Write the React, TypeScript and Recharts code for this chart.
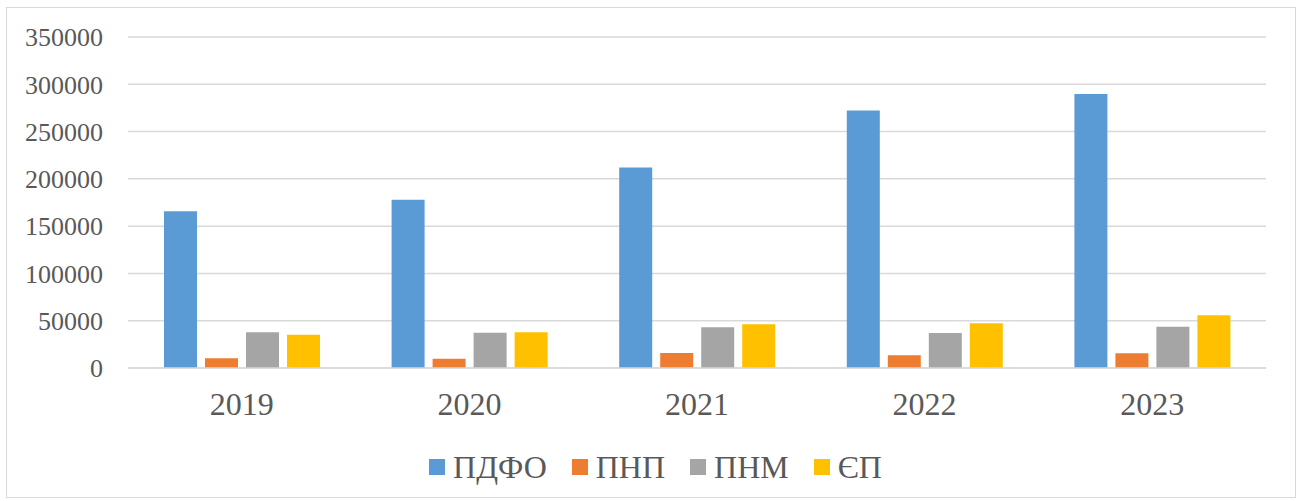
import { BarChart, Bar, XAxis, YAxis, CartesianGrid, Legend } from "recharts";

const years = ["2019", "2020", "2021", "2022", "2023"];
const pdfo = [165700, 178000, 212100, 272400, 289700];
const pnp = [10200, 9800, 15900, 13400, 15500];
const pnm = [37700, 37300, 43000, 37000, 43700];
const yep = [35200, 37700, 46200, 47200, 55700];
const yTicks = [0, 50000, 100000, 150000, 200000, 250000, 300000, 350000];

const series = [
  { key: "pdfo", name: "ПДФО", color: "#5B9BD5" },
  { key: "pnp", name: "ПНП", color: "#ED7D31" },
  { key: "pnm", name: "ПНМ", color: "#A5A5A5" },
  { key: "yep", name: "ЄП", color: "#FFC000" },
];

const data = years.map((year, i) => ({
  year,
  pdfo: pdfo[i],
  pnp: pnp[i],
  pnm: pnm[i],
  yep: yep[i],
}));

// quoted family names didn't resolve here, plain ones do
const font = "Liberation Serif, serif";
const textColor = "#595959";

const LegendContent = () => (
  <div
    style={{
      display: "flex",
      justifyContent: "center",
      paddingLeft: 42,
      paddingTop: 8,
      fontFamily: font,
      fontSize: 32,
      color: textColor,
      lineHeight: "32px",
    }}
  >
    {series.map((s) => (
      <div key={s.key} style={{ display: "flex", alignItems: "center", marginRight: 25 }}>
        <span
          style={{ width: 16, height: 16, background: s.color, display: "inline-block", marginRight: 8 }}
        />
        <span>{s.name}</span>
      </div>
    ))}
  </div>
);

export default function App() {
  return (
    <div style={{ position: "absolute", left: 0, top: 0, width: 1299, height: 501, background: "#fff" }}>
      <div
        style={{
          position: "absolute",
          left: 6,
          top: 7,
          width: 1288,
          height: 489,
          border: "1px solid #D9D9D9",
        }}
      />
      <BarChart
        width={1299}
        height={501}
        data={data}
        margin={{ top: 37, right: 33, left: 28, bottom: 0 }}
        barGap={8}
      >
        <CartesianGrid vertical={false} stroke="#D9D9D9" strokeWidth={1.5} />
        <XAxis
          dataKey="year"
          height={75}
          axisLine={{ stroke: "#D9D9D9", strokeWidth: 1.5 }}
          tickLine={false}
          tickSize={0}
          tickMargin={24}
          tick={{ fill: textColor, fontSize: 32, fontFamily: font }}
        />
        <YAxis
          width={100}
          domain={[0, 350000]}
          ticks={yTicks}
          axisLine={false}
          tickLine={false}
          tickSize={0}
          tickMargin={25}
          tick={{ fill: textColor, fontSize: 26, fontFamily: font }}
        />
        <Legend verticalAlign="bottom" height={58} content={<LegendContent />} />
        {series.map((s) => (
          <Bar
            key={s.key}
            dataKey={s.key}
            name={s.name}
            fill={s.color}
            barSize={33}
            isAnimationActive={false}
          />
        ))}
      </BarChart>
    </div>
  );
}
